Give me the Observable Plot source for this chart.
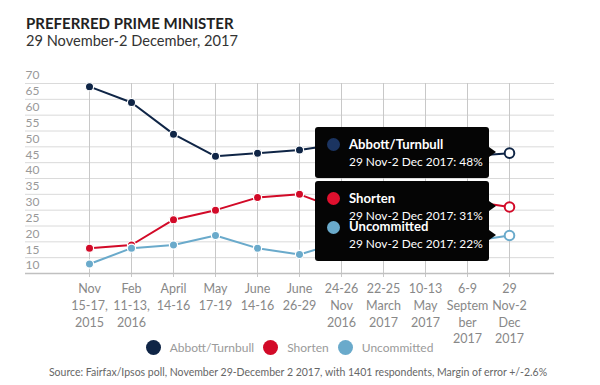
<!DOCTYPE html>
<html><head><meta charset="utf-8">
<script src="https://cdn.jsdelivr.net/npm/d3@7"></script>
<script src="https://cdn.jsdelivr.net/npm/@observablehq/plot@0.6"></script>
<style>
body{margin:0;background:#fff;font-family:Lato,"Noto Sans",sans-serif;}
#wrap{position:relative;width:600px;height:385px;overflow:hidden;}
#title{position:absolute;left:26px;top:14px;font-size:15px;font-weight:bold;color:#222;line-height:18px;white-space:nowrap;}
#subtitle{position:absolute;left:26px;top:32px;font-size:14.6px;color:#333;line-height:18px;white-space:nowrap;}
#chart{position:absolute;left:0;top:56px;}
.tipbg{position:absolute;background:#050505;border-radius:3px;}
.arrow{position:absolute;width:0;height:0;border-top:5.5px solid transparent;border-bottom:5.5px solid transparent;border-left:7px solid #050505;}
.tipdot{position:absolute;width:13px;height:13px;border-radius:50%;}
.tiptitle{position:absolute;color:#fff;font-weight:bold;font-size:13.1px;line-height:11px;white-space:nowrap;}
.tipdate{position:absolute;color:#fff;font-size:11.9px;line-height:11px;white-space:nowrap;}
#legend{position:absolute;left:0;width:579px;top:338px;height:18px;display:flex;justify-content:center;align-items:center;font-size:12px;color:#9a9a9a;}
#legend .item{display:flex;align-items:center;margin:0 4.5px;}
#legend .sw{width:15px;height:15px;border-radius:50%;margin-right:9px;}
#source{position:absolute;left:0;width:596px;top:366px;text-align:center;font-size:10.5px;color:#666;white-space:nowrap;}
</style></head><body>
<div id="wrap">
  <div id="title">PREFERRED PRIME MINISTER</div>
  <div id="subtitle">29 November-2 December, 2017</div>
  <div id="chart"></div>
  <div id="legend"></div>
  <div id="source">Source: Fairfax/Ipsos poll, November 29-December 2 2017, with 1401 respondents, Margin of error +/-2.6%</div>
</div>
<script>
const categories = ["Nov\n15-17,\n2015","Feb\n11-13,\n2016","April\n14-16","May\n17-19","June\n14-16","June\n26-29","24-26\nNov\n2016","22-25\nMarch\n2017","10-13\nMay\n2017","6-9\nSeptem\nber\n2017","29\nNov-2\nDec\n2017"];
const seriesNames = ["Abbott/Turnbull","Shorten","Uncommitted"];
const abbottTurnbull = [69,64,54,47,48,49,51,48,49,47,48];
const shorten = [18,19,27,30,34,35,30,33,35,33,31];
const uncommitted = [13,18,19,22,18,16,20,19,16,20,22];
const seriesColors = ["#0f2546","#d20a28","#6aaacb"];
const tipDotColors = ["#1b3461","#e0102e","#6aaacb"];
const yTicks = [10,15,20,25,30,35,40,45,50,55,60,65,70];
const tipLabel = "29 Nov-2 Dec 2017";

const seriesValues = [abbottTurnbull, shorten, uncommitted];
const rows = [];
seriesNames.forEach((s, si) => seriesValues[si].forEach((v, i) => rows.push({cat: categories[i], series: s, value: v, last: i === categories.length - 1})));

const svgTop = 56;
const chart = Plot.plot({
  width: 600, height: 290,
  marginTop: 27, marginBottom: 73, marginLeft: 25, marginRight: 46,
  style: {fontFamily: "Lato, 'Noto Sans', sans-serif", background: "transparent", overflow: "visible"},
  x: {type: "point", domain: categories, range: [66.7, 530.7], axis: null},
  y: {domain: [10, 70], axis: null},
  color: {domain: seriesNames, range: seriesColors},
  marks: [
    Plot.ruleY(yTicks.filter(t => t > 10), {y: d => d, stroke: "#dadada", strokeWidth: 1}),
    Plot.ruleX(categories, {x: d => d, stroke: "#c8c8c8", insetBottom: -4}),
    Plot.ruleY([10], {y: d => d, stroke: "#c0c0c0", strokeWidth: 1.5}),
    Plot.axisX({tickSize: 0, tickPadding: 8, fontSize: 12.5, color: "#888", lineHeight: 1.33, label: null}),
    Plot.text(yTicks, {y: d => d, text: d => String(d), frameAnchor: "left", textAnchor: "start", dy: -8, fill: "#999", fontSize: 12}),
    Plot.line(rows, {x: "cat", y: "value", z: "series", stroke: "series", strokeWidth: 2}),
    Plot.dot(rows.filter(d => !d.last), {x: "cat", y: "value", fill: "series", stroke: "white", strokeWidth: 1.2, r: 4.1}),
    Plot.dot(rows.filter(d => d.last), {x: "cat", y: "value", fill: "white", stroke: "series", strokeWidth: 2, r: 4.8})
  ]
});
document.getElementById("chart").appendChild(chart);

// tooltips positioned with the chart's own scales
const wrap = document.getElementById("wrap");
const xs = chart.scale("x"), ys = chart.scale("y");
const lastCat = categories[categories.length - 1];
const px = xs.apply(lastCat);
const tips = seriesNames.map((s, i) => ({s, color: tipDotColors[i], v: seriesValues[i][seriesValues[i].length - 1], py: ys.apply(seriesValues[i][seriesValues[i].length - 1]) + svgTop}));
const boxW = 174, boxH = 51;
function add(cls, css, text) {
  const d = document.createElement("div");
  d.className = cls;
  Object.assign(d.style, css);
  if (text) d.textContent = text;
  wrap.appendChild(d);
  return d;
}
tips.forEach(t => {
  const left = px - 20 - boxW, top = t.py - boxH / 2;
  add("tipbg", {left: left + "px", top: top + "px", width: boxW + "px", height: boxH + "px"});
  add("arrow", {left: (px - 20) + "px", top: (t.py - 5.5) + "px"});
});
tips.forEach(t => {
  const left = px - 20 - boxW, top = t.py - boxH / 2;
  add("tipdot", {left: (left + 12) + "px", top: (top + 11) + "px", background: t.color});
  add("tiptitle", {left: (left + 34) + "px", top: (top + 11.5) + "px"}, t.s);
  add("tipdate", {left: (left + 34) + "px", top: (top + 28.5) + "px"}, tipLabel + ": " + t.v + "%");
});

// legend
const legend = document.getElementById("legend");
seriesNames.forEach((s, i) => {
  const it = document.createElement("div");
  it.className = "item";
  const sw = document.createElement("div");
  sw.className = "sw";
  sw.style.background = seriesColors[i];
  const lb = document.createElement("span");
  lb.textContent = s;
  it.appendChild(sw); it.appendChild(lb);
  legend.appendChild(it);
});
</script>
</body></html>
